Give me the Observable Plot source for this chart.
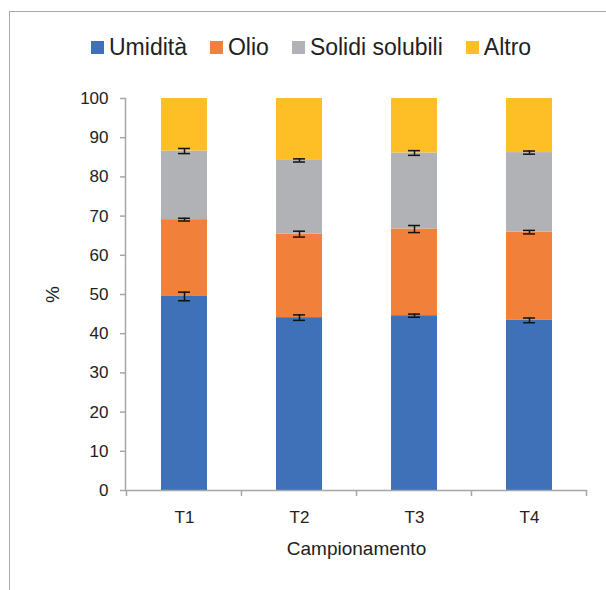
<!DOCTYPE html>
<html>
<head>
<meta charset="utf-8">
<script src="https://cdn.jsdelivr.net/npm/d3@7"></script>
<script src="https://cdn.jsdelivr.net/npm/@observablehq/plot@0.6"></script>
<style>
  html, body { margin: 0; padding: 0; background: #fff; }
  #wrap { position: relative; width: 606px; height: 590px; overflow: hidden; font-family: "Liberation Sans", Arial, sans-serif; color: #222; }
  #frame { position: absolute; left: 9px; top: 11px; width: 620px; height: 600px; border-left: 1.5px solid #a8a8a8; border-top: 1.5px solid #a8a8a8; }
  #legend { position: absolute; left: 91px; top: 34px; display: flex; align-items: center; font-size: 23px; white-space: nowrap; }
  .item { display: flex; align-items: center; margin-right: 23px; }
  .sw { width: 13px; height: 13px; margin-right: 5px; }
  #chart { position: absolute; left: 0; top: 80px; }
</style>
</head>
<body>
<div id="wrap">
  <div id="frame"></div>
  <div id="legend"></div>
  <div id="chart"></div>
</div>
<script>
const categories = ["T1", "T2", "T3", "T4"];
const seriesNames = ["Umidità", "Olio", "Solidi solubili", "Altro"];
const colors = ["#3f71b8", "#f1803b", "#b1b2b5", "#fdbe26"];
const umidita = [49.5, 44.1, 44.6, 43.4];
const olio = [19.6, 21.3, 22.1, 22.5];
const solidi = [17.5, 18.8, 19.4, 20.3];
const altro = [13.4, 15.8, 13.9, 13.8];
const errUmidita = [1.1, 0.7, 0.4, 0.6];
const errOlio = [0.35, 0.75, 0.9, 0.45];
const errSolidi = [0.65, 0.4, 0.6, 0.4];
const yTicks = [0, 10, 20, 30, 40, 50, 60, 70, 80, 90, 100];

const series = [umidita, olio, solidi, altro];
const errs = [errUmidita, errOlio, errSolidi];

const rows = [];
categories.forEach((c, i) => {
  series.forEach((s, k) => rows.push({cat: c, serie: seriesNames[k], value: s[i], order: k}));
});

const errRows = [];
categories.forEach((c, i) => {
  let cum = 0;
  errs.forEach((e, k) => {
    cum += series[k][i];
    errRows.push({cat: c, y: cum, lo: cum - e[i], hi: cum + e[i]});
  });
});

// legend
const leg = document.getElementById("legend");
seriesNames.forEach((n, k) => {
  const it = document.createElement("div");
  it.className = "item";
  it.innerHTML = `<div class="sw" style="background:${colors[k]}"></div><span>${n}</span>`;
  leg.appendChild(it);
});

const axisColor = "#a6a6a6";

const boundaryTicks = (index, scales, values, dim) => {
  const x = scales.x, y = scales.y;
  const step = x(categories[1]) - x(categories[0]);
  const bw = x.bandwidth ? x.bandwidth() : step * 0.4;
  const outer = (step - bw) / 2;
  const xs = categories.map(c => x(c) - outer);
  xs.push(x(categories[categories.length - 1]) + bw + outer);
  const y0 = y(0);
  const g = d3.create("svg:g");
  xs.forEach(px => {
    g.append("line").attr("x1", px).attr("x2", px).attr("y1", y0).attr("y2", y0 + 6)
      .attr("stroke", axisColor).attr("stroke-width", 1.5);
  });
  return g.node();
};

const chart = Plot.plot({
  width: 606,
  height: 510,
  marginLeft: 125,
  marginRight: 19,
  marginTop: 18,
  marginBottom: 100,
  style: {fontFamily: '"Liberation Sans", Arial, sans-serif', fontSize: "17px", color: "#222", background: "transparent"},
  x: {domain: categories, paddingInner: 0.6, paddingOuter: 0.3},
  y: {domain: [0, 100]},
  color: {domain: seriesNames, range: colors},
  marks: [
    Plot.barY(rows, Plot.stackY({x: "cat", y: "value", fill: "serie", order: "order"})),
    Plot.ruleX(errRows, {x: "cat", y1: "lo", y2: "hi", stroke: "#111", strokeWidth: 1.5}),
    Plot.tickY(errRows, {x: "cat", y: "lo", stroke: "#111", strokeWidth: 1.5, insetLeft: 17, insetRight: 17}),
    Plot.tickY(errRows, {x: "cat", y: "hi", stroke: "#111", strokeWidth: 1.5, insetLeft: 17, insetRight: 17}),
    Plot.ruleY([0], {stroke: axisColor, strokeWidth: 1.5}),
    Plot.axisY({ticks: yTicks, tickSize: 5, tickPadding: 12, stroke: axisColor, strokeWidth: 1.5, label: "%", labelAnchor: "center", labelOffset: 80, labelArrow: false, fontSize: 17}),
    Plot.axisX({tickSize: 0, tickPadding: 20, label: "Campionamento", labelAnchor: "center", labelOffset: 64, labelArrow: false, fontSize: 17}),
    Plot.frame({anchor: "left", stroke: axisColor, strokeWidth: 1.5}),
    boundaryTicks
  ]
});
d3.select(chart).selectAll('g[aria-label="x-axis label"], g[aria-label="y-axis label"]').attr("font-size", "19px");
document.getElementById("chart").appendChild(chart);
</script>
</body>
</html>
